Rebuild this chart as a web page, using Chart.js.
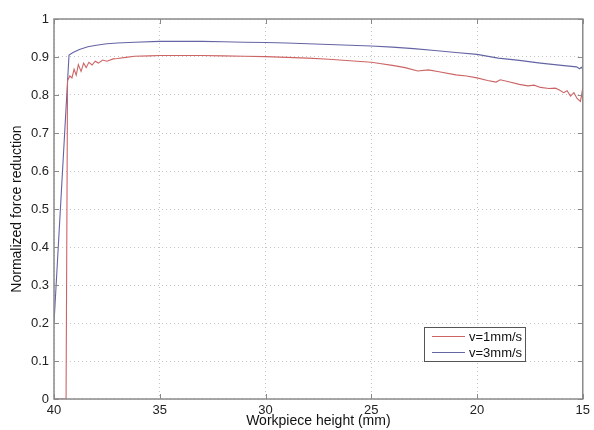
<!DOCTYPE html>
<html>
<head>
<meta charset="utf-8">
<script src="https://cdn.jsdelivr.net/npm/chart.js@4.4.0/dist/chart.umd.min.js"></script>
<style>
  html, body { margin: 0; padding: 0; background: #fff; }
  #wrap { width: 594px; height: 430px; position: relative; }
</style>
</head>
<body>
<div id="wrap"><canvas id="myChart" width="594" height="430"></canvas></div>
<script>
//* Datos

var xTicks = [40, 35, 30, 25, 20, 15];
var yTicks = [0, 0.1, 0.2, 0.3, 0.4, 0.5, 0.6, 0.7, 0.8, 0.9, 1];

// v = 1 mm/s (rojo)
var alturas1 = [40, 39.43, 39.36, 39.25, 39.15, 39.05, 38.95, 38.85, 38.72, 38.6, 38.48, 38.35, 38.2, 38.05,
  37.9, 37.7, 37.5, 37.2, 37, 36.6, 36.2, 35.5, 35, 34, 33, 32, 31, 30, 29, 28, 27, 26, 25, 24.6, 24,
  23.4, 22.8, 22.3, 21.8, 21, 20.5, 20, 19.5, 19.1, 18.9, 18.5, 18, 17.6, 17.3, 17, 16.6, 16.3, 16.13,
  15.9, 15.74, 15.58, 15.42, 15.27, 15.11, 15.03, 15];
var fuerza1 = [0, 0, 0.838, 0.85, 0.845, 0.868, 0.852, 0.88, 0.862, 0.884, 0.872, 0.886, 0.879, 0.889,
  0.884, 0.892, 0.889, 0.895, 0.896, 0.899, 0.902, 0.903, 0.904, 0.904, 0.904, 0.903, 0.902, 0.901, 0.899,
  0.897, 0.894, 0.89, 0.886, 0.883, 0.878, 0.872, 0.863, 0.866, 0.861, 0.853, 0.85, 0.845, 0.838, 0.834,
  0.84, 0.835, 0.828, 0.824, 0.826, 0.82, 0.817, 0.818, 0.814, 0.806, 0.811, 0.797, 0.806, 0.791, 0.783,
  0.809, 0.778];

// v = 3 mm/s (azul)
var alturas3 = [40, 39.29, 39.1, 38.8, 38.4, 38, 37.5, 37, 36.2, 35, 34, 33, 32, 31, 30, 29, 28, 27, 26,
  25, 24, 23, 22, 21, 20, 19, 18, 17, 16, 15.3, 15.15, 15.07, 15];
var fuerza3 = [0.2, 0.905, 0.912, 0.92, 0.927, 0.931, 0.935, 0.937, 0.939, 0.941, 0.941, 0.941, 0.94,
  0.939, 0.938, 0.937, 0.935, 0.933, 0.931, 0.929, 0.926, 0.922, 0.917, 0.912, 0.907, 0.897, 0.891,
  0.884, 0.878, 0.874, 0.869, 0.873, 0.868];

var rojo = 'rgb(205, 100, 100)';
var azul = 'rgb(100, 100, 165)';
var ejes = '#8a8a8a';
var fuente = '"Liberation Sans", Arial, sans-serif';

function puntos(xs, ys) {
  var out = [];
  for (var i = 0; i < xs.length; i++) {
    out.push({ x: xs[i], y: ys[i] });
  }
  return out;
}

// Caja, marcas interiores y leyenda al estilo MATLAB
var cajaPlugin = {
  id: 'caja',
  afterDraw: function (chart) {
    var c = chart.ctx;
    var a = chart.chartArea;
    var sx = chart.scales.x, sy = chart.scales.y;
    c.save();
    c.strokeStyle = ejes;
    c.lineWidth = 1.5;
    c.strokeRect(a.left, a.top, a.right - a.left, a.bottom - a.top);
    c.lineWidth = 1;
    xTicks.forEach(function (t) {
      var px = Math.round(sx.getPixelForValue(t)) + 0.5;
      c.beginPath();
      c.moveTo(px, a.bottom); c.lineTo(px, a.bottom - 5);
      c.moveTo(px, a.top); c.lineTo(px, a.top + 5);
      c.stroke();
    });
    yTicks.forEach(function (t) {
      var py = Math.round(sy.getPixelForValue(t)) + 0.5;
      c.beginPath();
      c.moveTo(a.left, py); c.lineTo(a.left + 5, py);
      c.moveTo(a.right, py); c.lineTo(a.right - 5, py);
      c.stroke();
    });

    // leyenda
    var lx = 424, ly = 327, lw = 101, lh = 34;
    c.fillStyle = '#fff';
    c.fillRect(lx, ly, lw, lh);
    c.strokeStyle = '#555';
    c.lineWidth = 1;
    c.strokeRect(lx + 0.5, ly + 0.5, lw, lh);
    c.font = '13px ' + fuente;
    c.textBaseline = 'middle';
    chart.data.datasets.forEach(function (ds, i) {
      var yy = ly + 9.5 + i * 16;
      c.strokeStyle = ds.borderColor;
      c.beginPath();
      c.moveTo(lx + 8, yy); c.lineTo(lx + 41, yy);
      c.stroke();
      c.fillStyle = '#111';
      c.fillText(ds.label, lx + 45, yy + 0.5);
    });
    c.restore();
  }
};

document.addEventListener("DOMContentLoaded", function () {
  var ctx = document.getElementById('myChart').getContext('2d');

  new Chart(ctx, {
    type: 'scatter',
    data: {
      datasets: [
        {
          label: 'v=1mm/s',
          data: puntos(alturas1, fuerza1),
          showLine: true,
          borderColor: rojo,
          borderWidth: 1.1,
          pointRadius: 0,
          tension: 0
        },
        {
          label: 'v=3mm/s',
          data: puntos(alturas3, fuerza3),
          showLine: true,
          borderColor: azul,
          borderWidth: 1.1,
          pointRadius: 0,
          tension: 0
        }
      ]
    },
    options: {
      responsive: false,
      animation: false,
      layout: { padding: { top: 19, right: 9, left: 0, bottom: 0 } },
      plugins: {
        legend: { display: false },
        tooltip: { enabled: false }
      },
      scales: {
        x: {
          type: 'linear',
          reverse: true,
          min: 15,
          max: 40,
          afterBuildTicks: function (scale) {
            scale.ticks = xTicks.map(function (v) { return { value: v }; });
          },
          afterFit: function (scale) { scale.height = 31; },
          grid: { color: '#c4c4c4', lineWidth: 1, drawTicks: false },
          border: { display: false, dash: [1, 3] },
          ticks: {
            padding: 4,
            color: '#222',
            font: { family: fuente, size: 13 }
          },
          title: {
            display: true,
            text: 'Workpiece height (mm)',
            color: '#111',
            padding: { top: -1, bottom: 0 },
            font: { family: fuente, size: 14 }
          }
        },
        y: {
          min: 0,
          max: 1,
          afterBuildTicks: function (scale) {
            scale.ticks = yTicks.map(function (v) { return { value: v }; });
          },
          afterFit: function (scale) { scale.width = 54; },
          grid: { color: '#c4c4c4', lineWidth: 1, drawTicks: false },
          border: { display: false, dash: [1, 3] },
          ticks: {
            padding: 5,
            color: '#222',
            font: { family: fuente, size: 13 },
            callback: function (v) { return String(Math.round(v * 10) / 10); }
          },
          title: {
            display: true,
            text: 'Normalized force reduction',
            color: '#111',
            padding: { top: 9, bottom: 0 },
            font: { family: fuente, size: 14 }
          }
        }
      }
    },
    plugins: [cajaPlugin]
  });
});
</script>
</body>
</html>
